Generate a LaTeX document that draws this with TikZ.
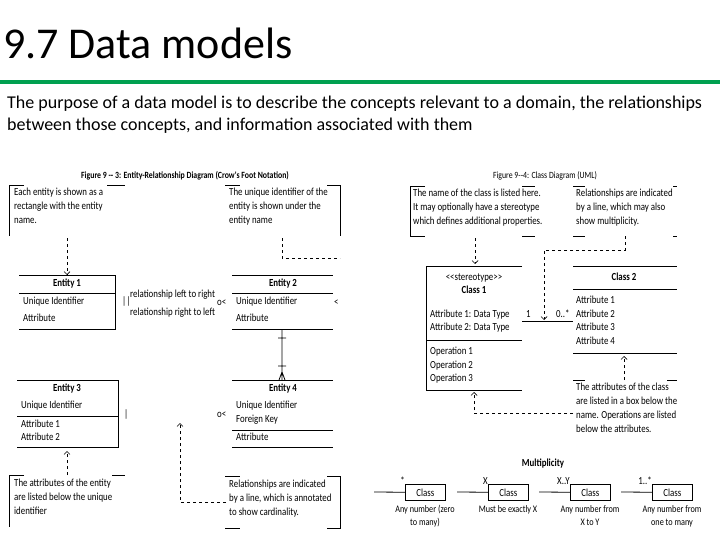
\documentclass[tikz,border=0pt]{standalone}
\usepackage{fontspec}
\setmainfont{Carlito}
\newfontfamily\cond[FakeStretch=0.82]{Carlito}
\usetikzlibrary{arrows.meta}
\begin{document}
\begin{tikzpicture}[x=1pt,y=-1pt,
  t/.style={anchor=base west,inner sep=0,font=\cond\fontsize{10.8}{14}\selectfont},
  tc/.style={anchor=base,inner sep=0,font=\cond\fontsize{10.8}{14}\selectfont},
  tb/.style={anchor=base,inner sep=0,font=\cond\bfseries\fontsize{10.8}{14}\selectfont},
  ml/.style={anchor=north west,inner sep=0,align=left,font=\cond\fontsize{10.8}{14}\selectfont},
  mc/.style={anchor=north,inner sep=0,align=center,font=\cond\fontsize{10}{13}\selectfont},
  ln/.style={line width=0.8pt},
  da/.style={dashed,line width=0.7pt},
  dar/.style={dashed,line width=0.7pt,-{Straight Barb[length=3pt]}}]
\useasboundingbox (0,0) rectangle (720,540);
\node[anchor=base west,inner sep=0,font=\fontsize{44}{46}\selectfont] (title) at (3,59) {9.7 Data models};
\draw[line width=4pt,color={rgb,255:red,0;green,160;blue,80}] (0,82) -- (720,82);
\node[anchor=north west,inner sep=0,align=left,font=\fontsize{18}{22}\selectfont] (intro) at (7,96) {The purpose of a data model is to describe the concepts relevant to a domain, the relationships\\between those concepts, and information associated with them};
% ---------- left figure
\node[tb,font=\cond\bfseries\fontsize{9.5}{12}\selectfont] (cap1) at (185,179) {Figure 9 -- 3: Entity-Relationship Diagram (Crow's Foot Notation)};
\node[ml] (ca) at (14,188) {Each entity is shown as a\\rectangle with the entity\\name.};
\draw[ln] (24,185)--(9,185)--(9,236) (107,185)--(125,185);
\node[ml] (cb) at (229,188) {The unique identifier of the\\entity is shown under the\\entity name};
\draw[ln] (225,185)--(240,185) (327,185)--(340,185)--(340,236);
\coordinate (e1t) at (67,275);
\draw[dar] (67,238)--(e1t);
\draw[da] (282,238)--(282,258)--(340,258);
% Entity 1
\draw[ln] (19,275)--(115,275)--(115,329)--(19,329) (19,293)--(115,293);
\node[tb] (e1) at (67,286) {Entity 1};
\node[t] (e1a) at (23,304) {Unique Identifier};
\node[t] (e1b) at (23,321) {Attribute};
\node[t] (bar) at (122,304) {||};
\node[t] (r1) at (130,297) {relationship left to right};
\node[t] (r2) at (130,315) {relationship right to left};
\node[t] (cf1) at (217,305) {o<};
% Entity 2
\draw[ln] (232,275)--(333,275) (232,293)--(333,293) (232,329)--(333,329);
\node[tb] (e2) at (283,286) {Entity 2};
\node[t] (e2a) at (236,304) {Unique Identifier};
\node[t] (e2b) at (236,321) {Attribute};
\node[t] (lt) at (334,305) {<};
\draw[ln] (282,329)--(282,380) (278,338)--(286,338) (278,366)--(286,366) (279,380)--(282,372)--(285,380);
% Entity 3
\draw[ln] (17,380)--(118,380)--(118,447)--(17,447) (17,416)--(118,416);
\node[tb] (e3) at (67,391) {Entity 3};
\node[t] (e3a) at (21,408) {Unique Identifier};
\node[t] (e3b) at (21,427) {Attribute 1};
\node[t] (e3c) at (21,440) {Attribute 2};
\node[t] (bar3) at (124,417) {|};
\node[t] (cf2) at (217,417) {o<};
% Entity 4
\draw[ln] (232,380)--(333,380) (232,430)--(333,430) (232,447)--(333,447);
\node[tb] (e4) at (283,391) {Entity 4};
\node[t] (e4a) at (236,408) {Unique Identifier};
\node[t] (e4b) at (236,422) {Foreign Key};
\node[t] (e4c) at (236,440) {Attribute};
\coordinate (e3b0) at (67,451);
\draw[dar] (67,475)--(e3b0);
\node[ml] (cc) at (14,479) {The attributes of the entity\\are listed below the unique\\identifier};
\draw[ln] (24,475)--(9,475)--(9,527) (112,475)--(125,475);
\coordinate (rel) at (180,423);
\draw[dar] (226,502)--(180,502)--(rel);
\node[ml] (cd) at (229,480) {Relationships are indicated\\by a line, which is annotated\\to show cardinality.};
\draw[ln] (225,476)--(240,476) (327,476)--(340,476)--(340,528)--(327,528) (225,528)--(240,528);
% ---------- right figure
\node[tb,font=\cond\fontsize{9.5}{12}\selectfont] (cap2) at (545,179) {Figure 9--4: Class Diagram (UML)};
\node[ml] (ce) at (413,189) {The name of the class is listed here.\\It may optionally have a stereotype\\which defines additional properties.};
\draw[ln] (425,186)--(410,186)--(410,236)--(425,236) (522,186)--(535,186) (522,236)--(535,236);
\coordinate (c1t) at (475,264);
\draw[dar] (475,238)--(c1t);
\node[ml] (cf) at (576,189) {Relationships are indicated\\by a line, which may also\\show multiplicity.};
\draw[ln] (573,186)--(585,186) (573,236)--(585,236) (673,186)--(677,186) (673,236)--(677,236);
\coordinate (relp) at (544,320);
\draw[dar] (625,236)--(625,250)--(544,250)--(relp);
% Class 1
\draw[ln] (522,266)--(426,266)--(426,390)--(522,390) (426,340)--(522,340);
\node[tc] (st) at (474,280) {<{}<stereotype>{}>};
\node[tb] (c1) at (474,293) {Class 1};
\node[t] (c1a) at (430,317) {Attribute 1: Data Type};
\node[t] (c1b) at (430,330) {Attribute 2: Data Type};
\node[t] (o1) at (430,354) {Operation 1};
\node[t] (o2) at (430,368) {Operation 2};
\node[t] (o3) at (430,381) {Operation 3};
\coordinate (c1r) at (522,321);
\coordinate (c2l) at (573,321);
\draw[ln] (c1r)--(c2l);
\node[t] (one) at (526,317) {1};
\node[t] (zm) at (556,317) {0..*};
% Class 2
\draw[ln] (573,266)--(677,266) (573,289)--(677,289) (573,353)--(677,353);
\node[tb] (c2) at (624,280) {Class 2};
\node[t] (c2a) at (576,303) {Attribute 1};
\node[t] (c2b) at (576,317) {Attribute 2};
\node[t] (c2c) at (576,330) {Attribute 3};
\node[t] (c2d) at (576,344) {Attribute 4};
\coordinate (c2b0) at (624,356);
\draw[dar] (624,380)--(c2b0);
\node[ml] (cg) at (576,383) {The attributes of the class\\are listed in a box below the\\name. Operations are listed\\below the attributes.};
\draw[ln] (573,380)--(585,380) (667,380)--(677,380);
\coordinate (c1b0) at (474,392);
\draw[dar] (573,413)--(474,413)--(c1b0);
% Multiplicity
\node[tb] (mult) at (543,466) {Multiplicity};
\foreach \i/\x/\lab/\cap in {1/405/*/{Any number (zero\\to many)},2/488/X/{Must be exactly X},3/570/X..Y/{Any number from\\X to Y},4/652/1..*/{Any number from\\one to many}}{
  \node[draw,line width=0.8pt,minimum width=40pt,minimum height=16pt,inner sep=0,anchor=north west,font=\cond\fontsize{10.8}{14}\selectfont] (m\i) at (\x,484) {Class};
  \coordinate (ms\i) at (\x-31,492);
  \draw[ln] (ms\i)--(m\i);
  \node[anchor=base east,inner sep=0,font=\cond\fontsize{10.8}{14}\selectfont] (ml\i) at (\x,484) {\lab};
  \node[mc] (mc\i) at (\x+20,505) {\cap};
}
\end{tikzpicture}
\end{document}
